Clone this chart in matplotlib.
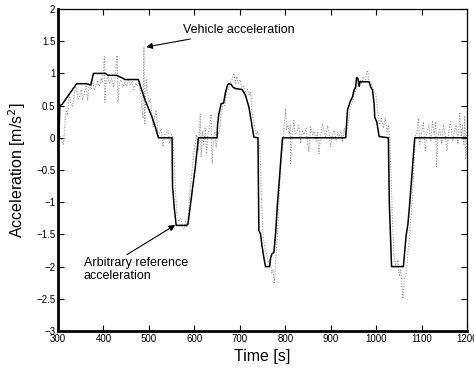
import matplotlib
matplotlib.use("Agg")
import matplotlib.pyplot as plt
from matplotlib.ticker import FuncFormatter

plt.rcParams['font.family'] = ['Liberation Sans', 'DejaVu Sans']

# Arbitrary reference acceleration (solid)
ref_t = [300, 302, 304, 309, 315, 326, 341, 363, 372, 378, 404, 411, 429, 444, 447, 477,
         483, 492, 507, 514, 521, 551, 552, 556, 560, 583, 586, 602, 609, 650, 651, 653.5,
         659, 664.5, 668, 673, 676, 681, 684.5, 690, 705, 712.5, 720, 725, 731, 740, 742,
         745.6, 749, 753, 756.6, 765.5, 768, 771, 775, 779, 782.6, 786, 794, 933, 937,
         942.6, 948, 951.5, 955, 957, 960, 963, 964.5, 984.5, 988, 992, 995.6, 997, 1001.5,
         1006.6, 1027, 1029, 1034, 1060, 1066, 1070, 1073.6, 1077, 1085, 1200]
ref_a = [0, 0, 0.5, 0.52, 0.58, 0.69, 0.84, 0.84, 0.82, 1.0, 1.0, 0.97, 0.97, 0.92, 0.905, 0.905,
         0.765, 0.58, 0.32, 0.17, 0.0, 0.0, -0.75, -1.1, -1.36, -1.36, -1.34, -0.46, 0.0, 0.0, 0.19, 0.35,
         0.53, 0.54, 0.69, 0.82, 0.84, 0.83, 0.79, 0.765, 0.75, 0.66, 0.48, 0.27, 0.01, 0.0, -1.44,
         -1.49, -1.68, -1.86, -2.0, -2.0, -1.86, -1.8, -1.78, -1.47, -1.05, -0.75, 0.0, 0.0, 0.43,
         0.556, 0.634, 0.74, 0.79, 0.936, 0.92, 0.8, 0.87, 0.87, 0.79, 0.74, 0.53, 0.32, 0.245,
         0.02, 0.0, -1.0, -2.0, -2.0, -1.52, -1.34, -1.05, -0.74, 0.0, 0.0]

# Vehicle acceleration (dotted)
veh_t = [300, 305, 309, 312, 315, 318, 321, 325, 328, 332, 336, 340, 344, 347, 351, 354, 358, 362,
         365, 369, 373, 376, 380, 384, 387, 391, 395, 398, 402, 403, 406, 410, 414, 418, 422, 426,
         430, 432, 435, 439, 443, 447, 451, 455, 459, 463, 467, 471, 475, 479, 483, 487, 489, 491,
         494, 497, 500, 503, 505, 509, 512, 516, 520, 524, 527, 531, 535, 539, 542, 546, 550, 553,
         556, 559, 562, 566, 570, 574, 578, 581, 584, 587, 590, 594, 597, 601, 605, 609, 613, 615,
         618, 621, 624, 627, 630, 634, 637, 639, 642, 645, 648, 651,
         655, 659, 663, 667, 671, 675, 679, 683, 687, 690, 693, 697, 701, 705, 709, 713, 717, 721,
         724, 727, 730, 733, 736, 739, 742,
         745, 748, 751, 755, 759, 763, 767, 770, 773, 776, 779, 782, 785, 788, 791, 795, 798, 801,
         803, 806, 809, 811, 812, 815, 819, 822, 826, 830, 834, 838, 842, 846, 849, 852, 856, 860,
         864, 868, 871, 874, 878, 882, 886, 889, 893, 897, 900, 904, 908, 912, 916, 919, 922, 926,
         930, 934, 937,
         940, 944, 948, 952, 956, 960, 964, 968, 972, 976, 981, 984, 988, 992, 996, 999, 1002, 1005,
         1008, 1012, 1016, 1020, 1024, 1027, 1030,
         1033, 1036, 1039, 1042, 1045, 1048, 1051, 1054, 1057, 1059, 1062, 1066, 1070, 1074, 1077,
         1081, 1084, 1087, 1090, 1093, 1096, 1100, 1104, 1108, 1112, 1116, 1120, 1124, 1128, 1131,
         1133, 1136, 1140, 1144, 1148, 1152, 1156, 1160, 1164, 1168, 1172, 1176, 1180, 1184, 1187,
         1190, 1193, 1195, 1197, 1200]
veh_a = [0.0, 0.02, -0.05, -0.1, 0.2, 0.43, 0.35, 0.69, 0.55, 0.48, 0.7, 0.79, 0.6, 0.63, 0.75, 0.58, 0.7, 0.84,
         0.58, 0.84, 0.75, 0.89, 0.74, 0.82, 0.89, 0.8, 0.92, 0.85, 1.26, 0.55, 0.9, 0.95, 0.85, 0.92, 0.8, 0.95,
         1.28, 0.55, 0.85, 0.9, 0.78, 0.88, 0.8, 0.9, 0.82, 0.88, 0.75, 0.85, 0.8, 0.85, 0.6, 0.3, 1.41, 0.2,
         0.9, 0.7, 0.55, 0.6, 0.48, 0.17, 0.3, 0.43, 0.01, 0.1, 0.14, -0.14, 0.05, 0.1, 0.11, -0.09, 0.05, 0.0,
         -0.4, -0.9, -1.2, -1.3, -1.25, -1.4, -1.42, -1.3, -1.38, -1.2, -0.9, -0.6, -0.35, -0.15, 0.05, -0.2, 0.37, -0.3,
         0.1, -0.1, 0.15, -0.25, 0.05, 0.2, 0.37, -0.4, 0.0, 0.1, -0.15, 0.05,
         0.1, 0.35, 0.55, 0.5, 0.7, 0.75, 0.85, 0.9, 1.0, 0.85, 0.95, 0.85, 0.9, 0.78, 0.8, 0.72, 0.75, 0.65,
         0.7, 0.4, 0.3, 0.15, 0.05, 0.1, -0.05,
         -0.3, -1.0, -1.5, -1.7, -1.8, -1.95, -1.9, -2.1, -2.05, -2.27, -1.9, -1.6, -1.2, -0.7, -0.3, -0.1, 0.2, 0.45,
         0.13, 0.2, 0.05, 0.2, -0.4, 0.0, 0.27, 0.05, 0.1, 0.19, -0.09, 0.12, 0.05, 0.15, -0.05, -0.22, 0.17, 0.05,
         0.1, -0.05, 0.08, -0.25, 0.05, 0.22, 0.1, 0.02, 0.19, 0.05, -0.14, 0.05, 0.12, -0.05, 0.08, 0.02, 0.1, -0.05,
         0.15, 0.02, 0.17,
         0.3, 0.5, 0.55, 0.7, 0.75, 0.85, 0.9, 0.85, 0.95, 0.9, 1.05, 0.9, 0.85, 0.78, 0.7, 0.69, 0.5, 0.35,
         0.2, 0.3, 0.15, 0.32, 0.1, 0.2, 0.0,
         -0.6, -1.3, -1.8, -1.95, -2.0, -1.9, -2.15, -2.05, -2.3, -2.5, -2.2, -2.1, -1.78, -1.5, -1.21,
         -0.79, -0.3, 0.05, 0.1, 0.3, -0.1, 0.05, 0.25, -0.2, 0.1, 0.2, -0.05, 0.25, 0.05, 0.25,
         -0.45, 0.0, 0.15, -0.1, 0.2, 0.05, -0.2, 0.1, 0.25, -0.05, 0.1, 0.2, -0.1, 0.4, 0.0,
         0.2, -0.1, 0.34, -0.33, 0.1]

x_ticks = [300, 400, 500, 600, 700, 800, 900, 1000, 1100, 1200]
y_ticks = [-3, -2.5, -2, -1.5, -1, -0.5, 0, 0.5, 1, 1.5, 2]

fig = plt.figure(figsize=(4.74, 3.73), dpi=100)
ax = fig.add_axes([58/474, 42/373, 409/474, 322/373])

ax.plot(veh_t, veh_a, linestyle=(0, (1, 1.6)), color='#8c8c8c', linewidth=0.75)
ax.plot(ref_t, ref_a, linestyle='-', color='black', linewidth=1.1)

ax.set_xlim(300, 1200)
ax.set_ylim(-3, 2)
ax.set_xticks(x_ticks)
ax.set_yticks(y_ticks)
ax.yaxis.set_major_formatter(FuncFormatter(lambda v, p: ('%g' % v).replace('-', '\u2212')))
ax.tick_params(direction='in', length=4, width=0.8, labelsize=7, top=True, right=True, pad=2)

for side in ['top', 'right']:
    ax.spines[side].set_linewidth(0.9)
for side in ['bottom', 'left']:
    ax.spines[side].set_linewidth(2.0)

ax.set_xlabel('Time [s]', fontsize=11.5, labelpad=4)
ax.set_ylabel('Acceleration [m/s$^2$]', fontsize=11.5, labelpad=6)

ax.annotate('Vehicle acceleration', xy=(494, 1.41), xytext=(575, 1.67),
            fontsize=9, ha='left', va='center',
            arrowprops=dict(arrowstyle='-|>', color='black', lw=0.8, mutation_scale=9, shrinkA=0, shrinkB=0))
ax.annotate('Arbitrary reference\nacceleration', xy=(558, -1.354), xytext=(357, -2.05),
            fontsize=9, ha='left', va='center', linespacing=1.1,
            arrowprops=dict(arrowstyle='-|>', color='black', lw=0.8, mutation_scale=9, shrinkA=0, shrinkB=0,
                            relpos=(0.37, 1.0)))

fig.savefig('out.png', dpi=100)
